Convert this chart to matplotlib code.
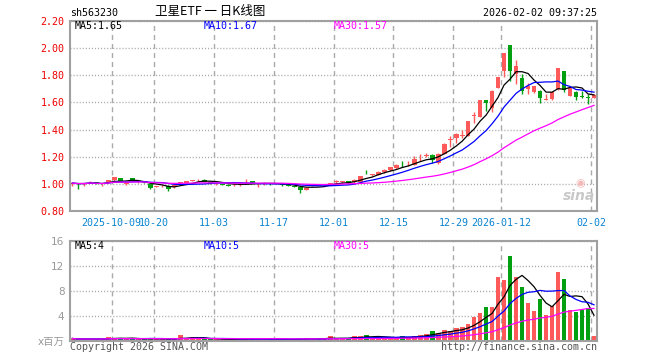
import matplotlib
matplotlib.use("Agg")
import matplotlib.pyplot as plt
import numpy as np
import pandas as pd

plt.rcParams['font.family'] = ['DejaVu Sans Mono', 'Noto Sans CJK SC']

# 日K数据 (2025-09-22 ~ 2026-02-02)
opens = [0.997, 1.003, 0.997, 1.012, 1.015, 0.990, 1.005, 1.025, 1.040, 0.997,
         1.040, 1.012, 1.020, 0.998, 0.978, 0.983, 0.985, 0.975, 1.007, 1.005,
         1.022, 1.027, 1.032, 1.012, 1.003, 1.000, 0.995, 0.998, 0.994, 1.003,
         1.020, 0.998, 1.003, 1.002, 1.000, 0.998, 0.992, 0.986, 0.975, 0.958,
         0.985, 1.000, 0.992, 1.000, 1.016, 1.014, 1.022, 1.012, 1.017, 1.089,
         1.065, 1.067, 1.084, 1.099, 1.116, 1.148, 1.146, 1.141, 1.196, 1.208,
         1.215, 1.153, 1.222, 1.324, 1.338, 1.354, 1.356, 1.502, 1.494, 1.617,
         1.560, 1.710, 1.832, 2.022, 1.812, 1.783, 1.696, 1.676, 1.684, 1.619,
         1.622, 1.696, 1.832, 1.650, 1.680, 1.648, 1.637, 1.635]
closes = [1.005, 0.999, 1.003, 1.016, 0.998, 0.995, 1.030, 1.050, 1.022, 1.010,
          1.022, 1.018, 1.007, 0.966, 0.982, 0.987, 0.965, 0.988, 1.011, 1.020,
          1.025, 1.030, 1.017, 1.005, 1.006, 0.995, 0.985, 1.001, 0.997, 1.006,
          1.005, 1.001, 1.006, 0.999, 1.002, 0.992, 0.985, 0.978, 0.952, 0.970,
          0.990, 0.990, 0.996, 1.004, 1.020, 1.017, 1.005, 1.032, 1.059, 1.085,
          1.068, 1.091, 1.104, 1.121, 1.141, 1.144, 1.149, 1.183, 1.199, 1.211,
          1.178, 1.222, 1.296, 1.327, 1.368, 1.357, 1.462, 1.505, 1.617, 1.593,
          1.684, 1.786, 1.963, 1.832, 1.867, 1.684, 1.720, 1.720, 1.635, 1.622,
          1.680, 1.852, 1.695, 1.705, 1.638, 1.643, 1.632, 1.658]
highs = [1.008, 1.004, 1.005, 1.021, 1.017, 0.998, 1.032, 1.052, 1.044, 1.012,
         1.046, 1.022, 1.022, 1.000, 0.986, 0.992, 0.988, 0.990, 1.016, 1.022,
         1.030, 1.034, 1.035, 1.014, 1.010, 1.002, 0.997, 1.005, 1.003, 1.035,
         1.022, 1.004, 1.015, 1.004, 1.006, 1.000, 0.994, 0.988, 0.978, 0.972,
         0.995, 1.002, 1.000, 1.008, 1.028, 1.022, 1.024, 1.034, 1.061, 1.104,
         1.072, 1.094, 1.108, 1.124, 1.144, 1.165, 1.168, 1.207, 1.222, 1.225,
         1.218, 1.225, 1.300, 1.350, 1.376, 1.400, 1.466, 1.528, 1.620, 1.620,
         1.688, 1.790, 1.966, 2.025, 1.912, 1.810, 1.745, 1.723, 1.688, 1.664,
         1.683, 1.855, 1.835, 1.708, 1.683, 1.684, 1.660, 1.664]
lows = [0.985, 0.965, 0.985, 1.008, 0.996, 0.985, 1.003, 1.022, 1.020, 0.993,
        1.020, 1.008, 1.005, 0.960, 0.975, 0.980, 0.946, 0.972, 1.000, 1.002,
        1.018, 1.022, 1.014, 1.000, 0.990, 0.990, 0.982, 0.985, 0.985, 1.000,
        1.003, 0.975, 0.990, 0.994, 0.996, 0.985, 0.982, 0.975, 0.932, 0.955,
        0.982, 0.988, 0.985, 0.995, 1.010, 1.010, 1.000, 1.010, 1.015, 1.070,
        1.060, 1.064, 1.080, 1.096, 1.112, 1.125, 1.132, 1.138, 1.172, 1.195,
        1.153, 1.150, 1.220, 1.274, 1.300, 1.340, 1.352, 1.450, 1.490, 1.536,
        1.531, 1.705, 1.787, 1.758, 1.733, 1.664, 1.664, 1.672, 1.593, 1.617,
        1.615, 1.692, 1.679, 1.645, 1.615, 1.630, 1.590, 1.630]
# 成交量 (百万)
volumes = [0.40, 0.25, 0.30, 0.30, 0.35, 0.30, 0.60, 0.50, 0.45, 0.30,
           0.45, 0.30, 0.30, 0.50, 0.25, 0.25, 0.35, 0.30, 0.90, 0.40,
           0.65, 0.40, 0.30, 0.25, 0.25, 0.20, 0.25, 0.20, 0.30, 0.50,
           0.30, 0.40, 0.30, 0.25, 0.25, 0.25, 0.25, 0.25, 0.40, 0.50,
           0.40, 0.25, 0.30, 0.80, 0.40, 0.43, 0.27, 0.80, 0.80, 0.96,
           0.53, 0.53, 0.53, 0.53, 0.53, 0.80, 0.43, 0.80, 0.96, 1.17,
           1.60, 1.33, 1.76, 1.60, 2.03, 2.24, 2.77, 3.89, 4.53, 5.44,
           5.44, 10.24, 9.76, 13.60, 10.24, 8.64, 6.13, 4.80, 6.67, 4.16,
           5.60, 11.04, 9.87, 4.96, 4.64, 4.96, 5.23, 0.80]

holidays = ['2025-10-01', '2025-10-02', '2025-10-03', '2025-10-06',
            '2025-10-07', '2025-10-08', '2026-01-01', '2026-01-02']
tick_dates = ['2025-10-09', '2025-10-20', '2025-11-03', '2025-11-17', '2025-12-01',
              '2025-12-15', '2025-12-29', '2026-01-12', '2026-02-02']
tick_labels = ['2025-10-09', '10-20', '11-03', '11-17', '12-01',
               '12-15', '12-29', '2026-01-12', '02-02']
price_ticks = [0.80, 1.00, 1.20, 1.40, 1.60, 1.80, 2.00, 2.20]
vol_ticks = [0, 4, 8, 12, 16]
ma_text = ['MA5:1.65', 'MA10:1.67', 'MA30:1.57']
vol_ma_text = ['MA5:4', 'MA10:5', 'MA30:5']

dates = pd.bdate_range('2025-09-22', '2026-02-02')
dates = dates[~dates.isin(pd.to_datetime(holidays))]
x = np.arange(len(dates))
o = np.array(opens)
c = np.array(closes)
h = np.array(highs)
l = np.array(lows)
v = np.array(volumes)

RED = '#ff5a5a'
GREEN = '#00a010'
GRID = '#aaaaaa'
FRAME = '#a0a0a0'
MA_COLORS = ['black', '#0000ff', '#ff00ff']

up = c >= o
colors = np.where(up, RED, GREEN)
tick_pos = [list(dates).index(pd.Timestamp(d)) - 0.45 for d in tick_dates]

W, H = 660, 360
fig = plt.figure(figsize=(W / 100, H / 100), dpi=100)
ax = fig.add_axes([70 / W, (H - 211) / H, 527 / W, 190 / H])
axv = fig.add_axes([70 / W, (H - 341) / H, 527 / W, 100 / H])

for a in (ax, axv):
    a.set_xlim(-0.4, len(x) - 0.5)
    for s in a.spines.values():
        s.set_color(FRAME)
        s.set_linewidth(1.5)
    a.set_xticks(tick_pos)
    a.grid(axis='x', color=GRID, linestyle=(0, (3.6, 2.9)), linewidth=1)
    a.grid(axis='y', color=GRID, linestyle=(0, (0.8, 1.4)), linewidth=1)
    a.tick_params(length=0)
    a.set_axisbelow(True)

# K线
body_low = np.minimum(o, c)
body_h = np.maximum(np.abs(c - o), 0.004)
ax.vlines(x, l, h, colors=colors, linewidth=1)
ax.bar(x, body_h, bottom=body_low, width=0.8, color=colors)
for n, col in zip([5, 10, 30], MA_COLORS):
    ax.plot(x, pd.Series(c).rolling(n, min_periods=1).mean(), color=col, linewidth=0.9)
ax.set_ylim(0.8, 2.2)
ax.set_yticks(price_ticks)
ax.set_yticklabels([f'{t:.2f}' for t in price_ticks], color='#ee0000', fontsize=7.2)
ax.set_xticklabels(tick_labels, color='#0a84d0', fontsize=7.2)
ax.tick_params(axis='x', pad=5)
ax.tick_params(axis='y', pad=4)

# 成交量
axv.bar(x, v, width=0.8, color=colors)
for n, col in zip([5, 10, 30], MA_COLORS):
    axv.plot(x, pd.Series(v).rolling(n, min_periods=1).mean(), color=col, linewidth=0.9)
axv.set_ylim(0, 16)
axv.set_yticks(vol_ticks)
axv.set_yticklabels(['x百万'] + [str(t) for t in vol_ticks[1:]], color='#999999',
                    fontsize=7.5, family=['DejaVu Sans', 'Noto Sans CJK SC'])
axv.set_xticklabels([])
axv.tick_params(axis='y', pad=4)


def ftext(px, py, s, **kw):
    fig.text(px / W, 1 - py / H, s, va='center', **kw)


ftext(70, 13, 'sh563230', fontsize=7.2, color='black')
ftext(210, 12, '卫星ETF 一 日K线图', fontsize=9, ha='center', color='black',
      family=['Noto Sans CJK SC', 'DejaVu Sans'])
ftext(597, 13, '2026-02-02 09:37:25', fontsize=7.2, ha='right', color='black')
for px, s, col in zip([75, 204, 334], ma_text, MA_COLORS):
    ftext(px, 26, s, fontsize=7.2, color=col)
for px, s, col in zip([75, 204, 334], vol_ma_text, MA_COLORS):
    ftext(px, 246, s, fontsize=7.2, color=col)
ftext(70, 347, 'Copyright 2026 SINA.COM', fontsize=7.2, color='#555555')
ftext(597, 347, 'http://finance.sina.com.cn', fontsize=7.2, ha='right', color='#555555')
ftext(595, 196, 'sina', fontsize=10, ha='right', color='#c8c8c8',
      family='DejaVu Sans', style='italic', weight='bold')
ftext(580, 183, '◉', fontsize=8, ha='center', color='#f4b8b8', family='DejaVu Sans')

fig.savefig('out.png', dpi=100)
